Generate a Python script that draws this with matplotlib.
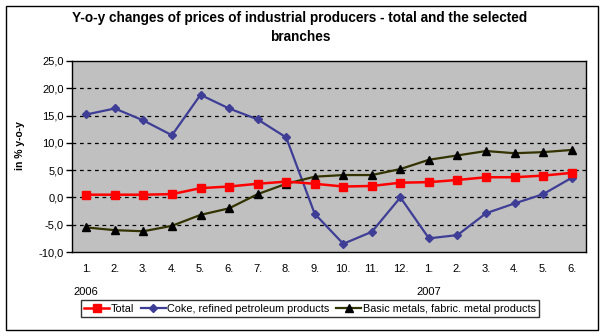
import matplotlib
matplotlib.use("Agg")
import matplotlib.pyplot as plt
from matplotlib.patches import Rectangle
from matplotlib.ticker import FuncFormatter
import numpy as np

plt.rcParams['font.family'] = ['Liberation Sans', 'DejaVu Sans']

# months Jan 2006 .. Jun 2007
months = ["1.", "2.", "3.", "4.", "5.", "6.", "7.", "8.", "9.", "10.", "11.", "12.",
          "1.", "2.", "3.", "4.", "5.", "6."]
years = ["2006", "2007"]

total = [0.5, 0.5, 0.5, 0.6, 1.7, 2.0, 2.5, 2.9, 2.5, 2.0, 2.1, 2.7,
         2.8, 3.2, 3.7, 3.7, 4.0, 4.5]
coke = [15.2, 16.3, 14.1, 11.4, 18.8, 16.3, 14.3, 11.0, -3.0, -8.5, -6.3, 0.0,
        -7.5, -6.9, -2.9, -1.1, 0.6, 3.6]
metals = [-5.5, -6.0, -6.2, -5.2, -3.2, -2.0, 0.6, 2.5, 3.8, 4.1, 4.1, 5.2,
          6.9, 7.7, 8.5, 8.1, 8.3, 8.7]

W, H = 604, 336
fig = plt.figure(figsize=(W / 100, H / 100), dpi=100)

# outer chart frame
fig.patches.append(Rectangle((5.5 / W, 6 / H), 592.5 / W, 324.5 / H,
                             transform=fig.transFigure, fill=False,
                             edgecolor="black", linewidth=1))

ax = fig.add_axes([72 / W, (H - 252) / H, 514 / W, 191 / H])
ax.set_facecolor("#C0C0C0")

x = np.arange(len(months))
ax.plot(x, total, color="#FF0000", lw=1.8, marker="s", ms=6,
        mfc="#FF0000", mec="#FF0000", label="Total", zorder=4)
ax.plot(x, coke, color="#3E3E96", lw=1.6, marker="D", ms=4,
        mfc="#3E3E96", mec="#3E3E96", label="Coke, refined petroleum products", zorder=3)
ax.plot(x, metals, color="#333300", lw=1.6, marker="^", ms=6,
        mfc="black", mec="black", label="Basic metals, fabric. metal products", zorder=3)

ax.set_xlim(-0.5, len(months) - 0.5)
ax.set_ylim(-10, 25)
ax.set_yticks(np.arange(-10, 26, 5))
ax.yaxis.set_major_formatter(FuncFormatter(lambda v, p: ("%.1f" % v).replace(".", ",")))
ax.set_xticks(x)
ax.set_xticklabels(months)
ax.tick_params(axis="x", length=0, pad=9, labelsize=8)
ax.tick_params(axis="y", length=4, width=1, direction="out", pad=2, labelsize=8)

for yv in np.arange(-5, 25, 5):
    ax.axhline(yv, color="black", lw=0.9, ls=(0, (3, 3)), zorder=1)

for s in ax.spines.values():
    s.set_linewidth(1)
    s.set_color("black")

ax.set_ylabel("in % y-o-y", fontsize=7.5, fontweight="bold")
ax.yaxis.set_label_coords(-0.091, 0.555)

# year labels under the first month of each year
for yi, name in zip([0, 12], years):
    ax.text(yi, -0.21, name, transform=ax.get_xaxis_transform(),
            ha="center", va="center", fontsize=8)

fig.text(300 / W, 1 - 18 / H,
         "Y-o-y changes of prices of industrial producers - total and the selected",
         ha="center", va="center", fontsize=9.8, fontweight="bold")
fig.text(300 / W, 1 - 37 / H, "branches",
         ha="center", va="center", fontsize=9.8, fontweight="bold")

leg = fig.legend(loc="center", bbox_to_anchor=(310 / W, 1 - 308.5 / H), ncol=3,
                 fontsize=7.8, frameon=True, fancybox=False, borderpad=0.3,
                 handlelength=2.3, handletextpad=0.15, columnspacing=0.6,
                 borderaxespad=0)
leg.get_frame().set_edgecolor("black")
leg.get_frame().set_linewidth(1)

fig.savefig("out.png", dpi=100)
